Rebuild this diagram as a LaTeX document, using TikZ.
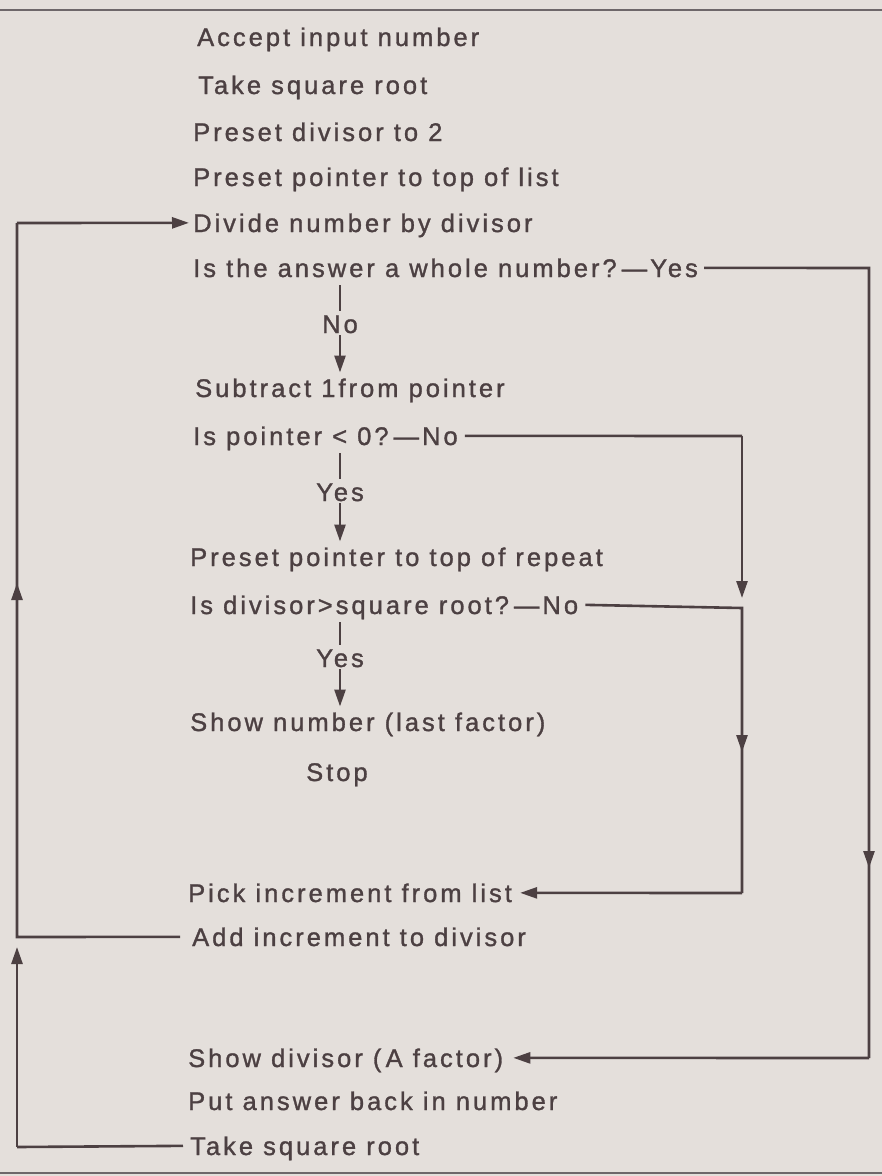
\documentclass[tikz,border=0pt]{standalone}
\usepackage{fontspec}
\setmainfont{Liberation Sans}[LetterSpace=11.8,FakeBold=1.2]
\usetikzlibrary{arrows.meta,calc}
\definecolor{bg}{HTML}{E4DFDB}
\definecolor{ink}{HTML}{4C4042}
\definecolor{rule}{HTML}{6E676A}
\newcommand{\dsh}{\kern5pt—}
\begin{document}
\begin{tikzpicture}[x=1pt,y=-1pt,
  lbl/.style={anchor=base west, inner sep=0pt, text height=18.3pt, text depth=0pt, text=ink,
    font=\fontsize{25.5pt}{30pt}\selectfont},
  sub/.style={lbl, anchor=base},
  conn/.style={draw=ink, line width=2.6pt},
  arr/.style={conn, -{Triangle[length=17pt,width=11pt]}},
  border/.style={draw=rule, line width=2pt}]
\fill[bg] (0,0) rectangle (882,1176);
\useasboundingbox (0,0) rectangle (882,1176);
\draw[border] (0,10) -- (882,10);
\draw[border] (0,1173) -- (882,1173);

\node[lbl] (t1) at (197,46) {Accept input number};
\node[lbl] (t2) at (198,94) {Take square root};
\node[lbl] (t3) at (193,141) {Preset divisor to 2};
\node[lbl] (t4) at (193,186) {Preset pointer to top of list};
\node[lbl] (t5) at (193,232) {Divide number by divisor};
\node[lbl] (t6) at (193,277) {Is the answer a whole number?\dsh Yes};
\node[sub] (n1) at (340,333) {No};
\node[lbl] (t7) at (195,397) {Subtract 1from pointer};
\node[lbl] (t8) at (193,445) {Is pointer < 0?\dsh No};
\node[sub] (n2) at (340,501) {Yes};
\node[lbl] (t9) at (190,566) {Preset pointer to top of repeat};
\node[lbl] (t10) at (190,614) {Is divisor>square root?\dsh No};
\node[sub] (n3) at (340,667) {Yes};
\node[lbl] (t11) at (190,731) {Show number (last factor)};
\node[lbl] (t12) at (306,781) {Stop};
\node[lbl] (t13) at (188,902) {Pick increment from list};
\node[lbl] (t14) at (192,946) {Add increment to divisor};
\node[lbl] (t15) at (188,1067) {Show divisor (\,A factor)};
\node[lbl] (t16) at (188,1110) {Put answer back in number};
\node[lbl] (t17) at (190,1155) {Take square root};

% corner coordinates
\coordinate (ya) at (869,268);
\coordinate (yb) at (869,1058);
\coordinate (pa) at (742,436);
\coordinate (pb) at (742,598);
\coordinate (da) at (742,608);
\coordinate (db) at (742,893);
\coordinate (la) at (17,937);
\coordinate (lb) at (17,223);
\coordinate (lc) at (17,1147);
\coordinate (ld) at (17,947);

% decision: whole number? No
\draw[conn] ([yshift=-8pt]t6.base -| n1) -- ([yshift=4pt]n1.north);
\draw[arr] ([yshift=-2pt]n1.south) -- ([yshift=6pt]t7.north -| n1);
% pointer<0? Yes
\draw[conn] ([yshift=-8pt]t8.base -| n2) -- ([yshift=4pt]n2.north);
\draw[arr] ([yshift=-2pt]n2.south) -- ([yshift=6pt]t9.north -| n2);
% divisor>root? Yes
\draw[conn] ([yshift=-8pt]t10.base -| n3) -- ([yshift=4pt]n3.north);
\draw[arr] ([yshift=-2pt]n3.south) -- ([yshift=6pt]t11.north -| n3);

% whole number Yes -> Show divisor
\draw[conn] ([xshift=6pt]t6.east) -- (ya) -- (yb);
\draw[arr] (ya) -- (869,868);
\draw[arr] (yb) -- ([xshift=10pt]t15.east);

% pointer<0 No -> down
\draw[conn] ([xshift=7pt]t8.east) -- (pa);
\draw[arr] (pa) -- (pb);
% divisor>root No -> Pick increment
\draw[conn] ([xshift=7pt]t10.east) -- (da) -- (db);
\draw[arr] (da) -- (742,752);
\draw[arr] (db) -- ([xshift=8pt]t13.east);

% Add increment -> Divide
\draw[conn] ([xshift=-12pt]t14.west) -- (la) -- (lb);
\draw[arr] (la) -- (17,583);
\draw[arr] (lb) -- ([xshift=-4pt]t5.west);
% Take square root -> up
\draw[conn] ([xshift=-7pt]t17.west) -- (lc);
\draw[arr] (lc) -- (ld);
\end{tikzpicture}
\end{document}
